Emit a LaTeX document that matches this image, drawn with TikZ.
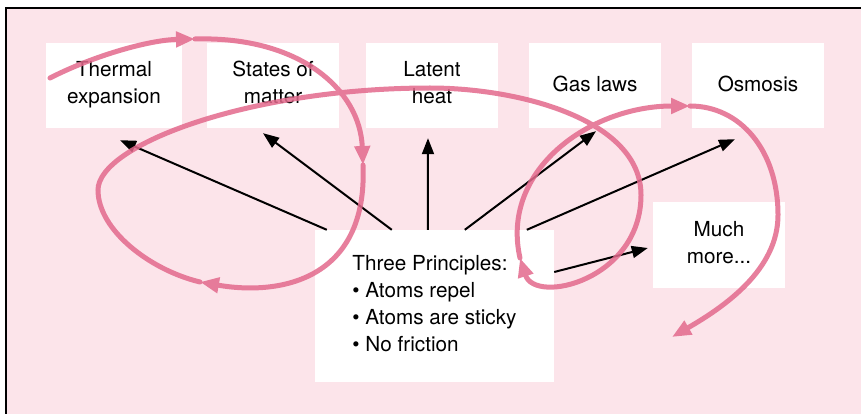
\documentclass[tikz,border=0pt]{standalone}
\usepackage{fontspec}
\setmainfont{TeX Gyre Heros}
\usetikzlibrary{arrows.meta}
\definecolor{bgpink}{HTML}{FCE4EA}
\definecolor{trailpink}{HTML}{E3698C}
\newcommand{\cardstrut}{\rule[-6pt]{0pt}{25pt}}

\begin{document}
\begin{tikzpicture}[x=1pt, y=-1pt, >={Triangle[length=16pt,width=12pt]},
    card/.style={fill=white, inner sep=0pt, minimum width=132pt, minimum height=85pt,
        align=center, font=\fontsize{20.7}{27}\selectfont,
        execute at begin node=\cardstrut, execute at end node=\cardstrut},
    link/.style={->, line width=2pt},
    trail/.style={line width=5pt, line cap=round, trailpink, -{Triangle[length=19pt,width=15pt]}}]
    \useasboundingbox (0,0) rectangle (861,414);
    \draw[line width=2.5pt, fill=bgpink] (6,8) rectangle (880,440);

    % topics along the top
    \node[card, minimum width=136pt] (thermal) at (114,85.5) {Thermal\\expansion};
    \node[card] (states) at (273,85.5) {States of\\matter};
    \node[card] (latent) at (432,85.5) {Latent\\heat};
    \node[card] (gas) at (595,85.5) {Gas laws};
    \node[card] (osmosis) at (758,85.5) {Osmosis};
    \node[card, minimum height=86pt] (more) at (719,245) {Much\\more...};
    \node[card, minimum width=239pt, minimum height=152pt, align=left] (principles) at (434.5,306)
        {Three Principles:\\• Atoms repel\\• Atoms are sticky\\• No friction};

    \draw[link] ([xshift=12pt]principles.north west) -- ([xshift=6pt, yshift=-12pt]thermal.south);
    \draw[link] ([xshift=77pt]principles.north west) -- ([xshift=-10pt, yshift=-5pt]states.south);
    \draw[link] ([xshift=113pt]principles.north west) -- ([xshift=-4pt, yshift=-10pt]latent.south);
    \draw[link] ([xshift=150pt]principles.north west) -- ([xshift=1pt, yshift=-3pt]gas.south);
    \draw[link] ([xshift=212pt]principles.north west) -- ([xshift=-23pt, yshift=-11pt]osmosis.south);
    \draw[link] ([yshift=34pt]principles.east) -- ([xshift=-5pt, yshift=-3pt]more.west);

    % the path a student takes through it
    \begin{scope}[transparency group, opacity=0.85]
        \draw[trail] (50,78) .. controls (95,55) and (150,40) .. (195,39);
        \draw[trail] (195,39) .. controls (300,36) and (360,90) .. (363,165);
        \draw[trail] (363,165) .. controls (368,280) and (280,296) .. (200,282);
        \draw[trail] (200,282) .. controls (150,270) and (98,230) .. (98,190)
            .. controls (98,145) and (250,88) .. (430,88)
            .. controls (520,88) and (641,120) .. (641,195)
            .. controls (641,280) and (535,305) .. (520,258);
        \draw[trail] (520,258) .. controls (500,170) and (590,106) .. (690,106);
        \draw[trail] (690,106) .. controls (740,106) and (778,150) .. (778,215)
            .. controls (778,270) and (724,307) .. (672,337);
    \end{scope}
\end{tikzpicture}
\end{document}
